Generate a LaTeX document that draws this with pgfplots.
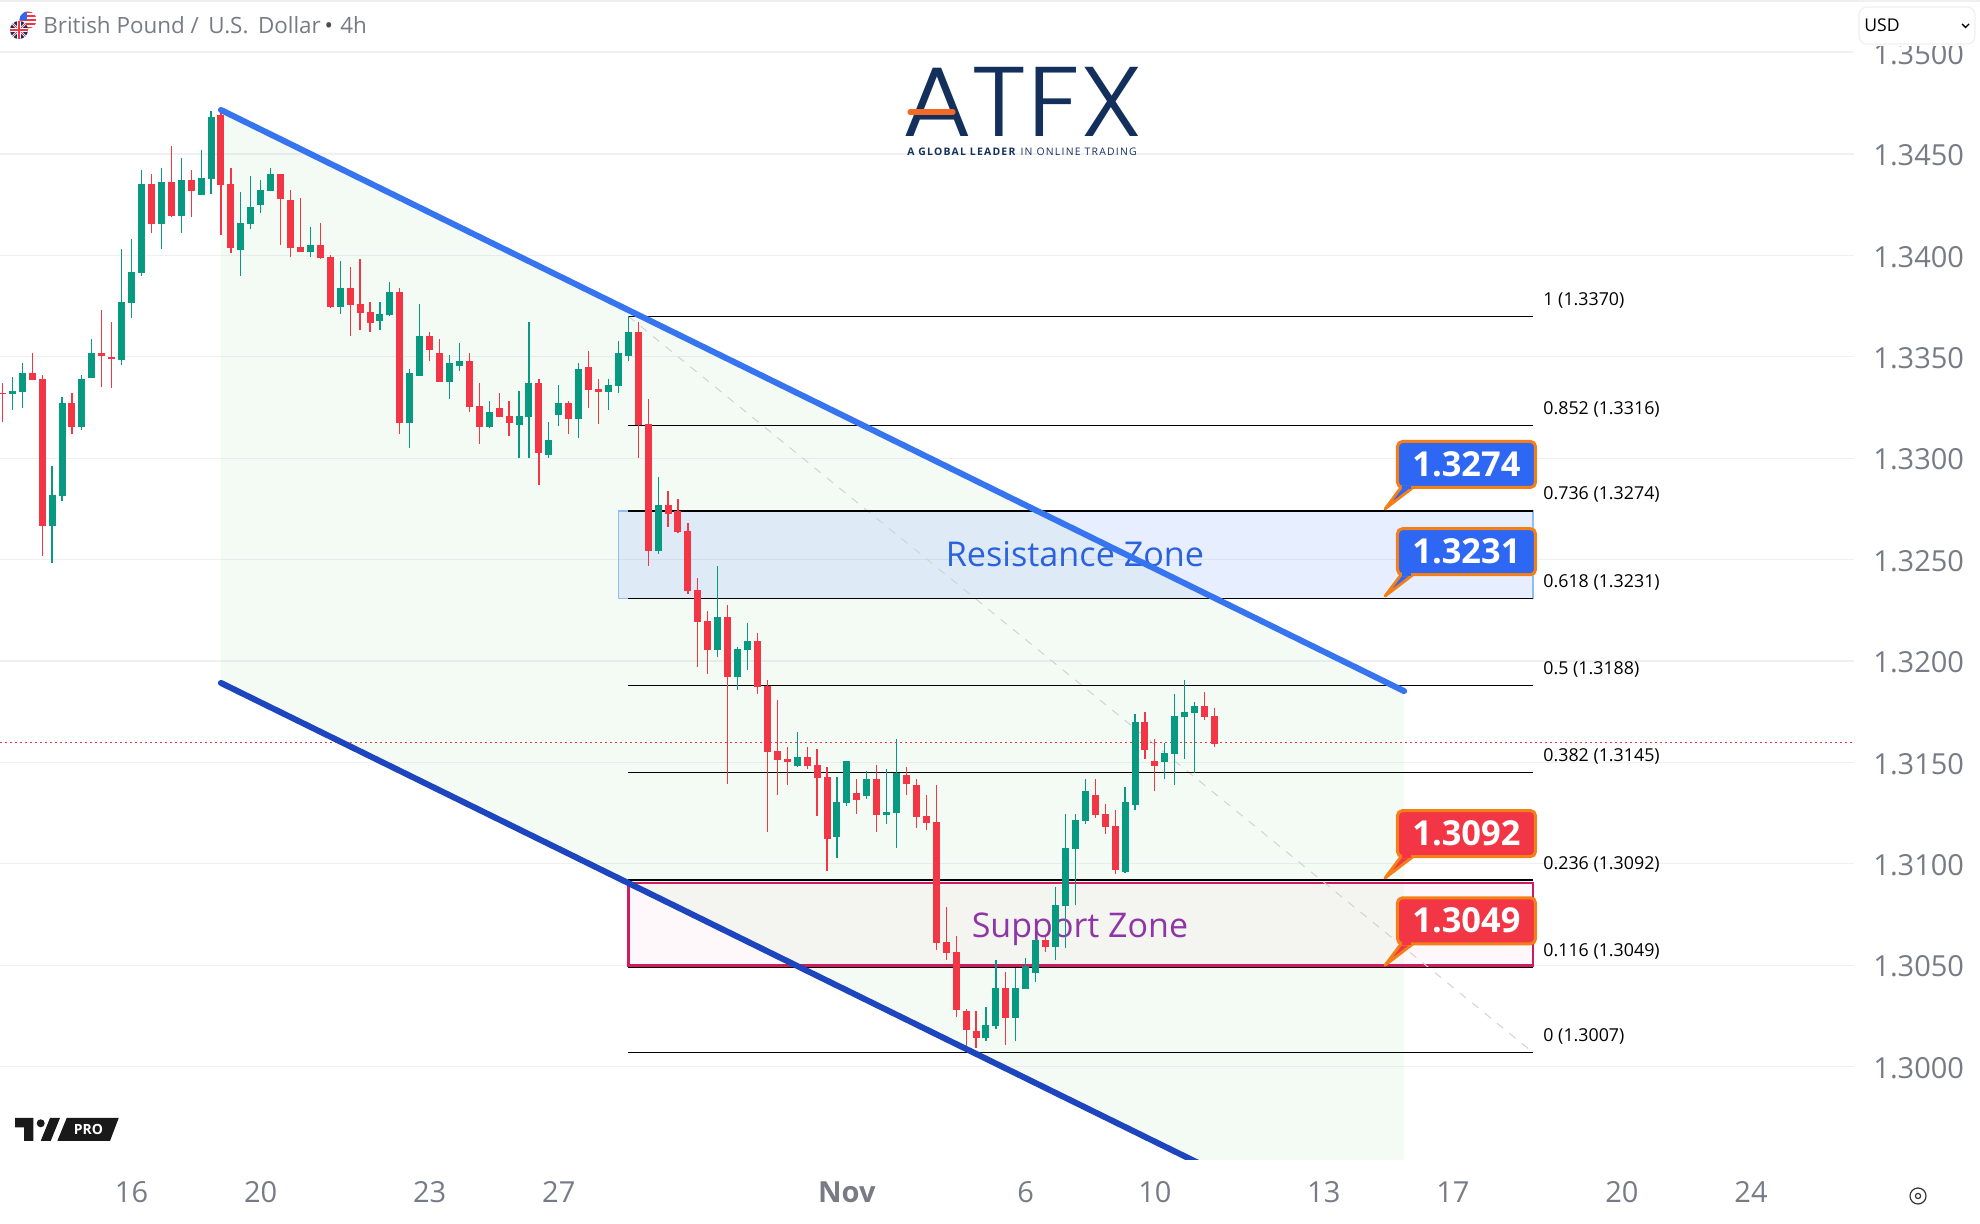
\documentclass[border=0pt]{standalone}
\usepackage{fontspec}
\usepackage{pgfplots}
\usepackage{pgfplotstable}
\pgfplotsset{compat=1.18}
\setmainfont{Open Sans}
\newfontfamily\logoA[FakeStretch=1.08]{Poppins Light}
\newfontfamily\logoB[LetterSpace=12]{Open Sans}
\definecolor{cg}{HTML}{089981}
\definecolor{cr}{HTML}{F23645}
\definecolor{tickgrey}{HTML}{787B86}
\definecolor{gridc}{HTML}{F0F0F3}
\definecolor{navy}{HTML}{13305C}
\definecolor{orangeb}{HTML}{F57F17}
\definecolor{orangel}{HTML}{F26B26}
\definecolor{boxblue}{HTML}{2F67F5}
\pgfplotstableread{
i h t b l
1 1.33400 1.33331 1.33317 1.33238
2 1.33469 1.33420 1.33326 1.33248
5 1.32962 1.32819 1.32666 1.32483
6 1.33302 1.33272 1.32814 1.32789
8 1.33410 1.33391 1.33154 1.33139
9 1.33588 1.33519 1.33395 1.33395
12 1.34031 1.33770 1.33484 1.33460
13 1.34081 1.33918 1.33765 1.33691
14 1.34421 1.34352 1.33913 1.33898
16 1.34431 1.34362 1.34155 1.34031
18 1.34480 1.34372 1.34194 1.34110
20 1.34520 1.34381 1.34298 1.34298
21 1.34712 1.34682 1.34376 1.34303
24 1.34312 1.34160 1.34026 1.33898
25 1.34391 1.34238 1.34155 1.34130
26 1.34372 1.34322 1.34248 1.34209
27 1.34431 1.34401 1.34317 1.34317
31 1.34140 1.34051 1.34017 1.33992
34 1.33972 1.33839 1.33745 1.33711
38 1.33770 1.33711 1.33676 1.33632
39 1.33869 1.33820 1.33706 1.33701
41 1.33440 1.33420 1.33174 1.33050
42 1.33760 1.33603 1.33405 1.33405
45 1.33509 1.33469 1.33376 1.33292
46 1.33568 1.33479 1.33455 1.33430
49 1.33282 1.33228 1.33154 1.33149
52 1.33331 1.33208 1.33164 1.33001
53 1.33671 1.33371 1.33203 1.33001
55 1.33179 1.33090 1.33016 1.33001
56 1.33361 1.33272 1.33213 1.33159
58 1.33469 1.33440 1.33193 1.33100
61 1.33391 1.33361 1.33326 1.33238
62 1.33578 1.33519 1.33356 1.33322
63 1.33701 1.33622 1.33504 1.33479
66 1.32907 1.32769 1.32543 1.32528
72 1.32469 1.32217 1.32055 1.32020
74 1.32069 1.32059 1.31921 1.31857
75 1.32188 1.32099 1.32055 1.31956
80 1.31650 1.31527 1.31483 1.31478
84 1.31428 1.31305 1.31133 1.31029
85 1.31507 1.31507 1.31300 1.31285
87 1.31458 1.31418 1.31335 1.31320
89 1.31468 1.31256 1.31241 1.31197
90 1.31616 1.31448 1.31251 1.31078
99 1.30294 1.30206 1.30142 1.30127
100 1.30526 1.30388 1.30201 1.30186
102 1.30487 1.30388 1.30240 1.30127
103 1.30536 1.30497 1.30383 1.30383
104 1.30630 1.30625 1.30462 1.30418
106 1.30886 1.30797 1.30591 1.30526
107 1.31246 1.31078 1.30792 1.30586
108 1.31246 1.31216 1.31073 1.30797
109 1.31418 1.31359 1.31212 1.31197
113 1.31379 1.31305 1.30960 1.30955
114 1.31739 1.31700 1.31290 1.31266
117 1.31596 1.31547 1.31502 1.31418
118 1.31838 1.31729 1.31542 1.31389
119 1.31907 1.31749 1.31724 1.31517
120 1.31798 1.31778 1.31744 1.31448
}\greendata
\pgfplotstableread{
i h t b l
0 1.33371 1.33322 1.33317 1.33179
3 1.33519 1.33420 1.33386 1.33386
4 1.33410 1.33391 1.32666 1.32518
7 1.33322 1.33272 1.33154 1.33119
10 1.33731 1.33519 1.33504 1.33351
11 1.33671 1.33499 1.33489 1.33346
15 1.34401 1.34352 1.34155 1.34110
17 1.34539 1.34362 1.34194 1.34189
19 1.34421 1.34372 1.34317 1.34189
22 1.34702 1.34692 1.34347 1.34100
23 1.34431 1.34352 1.34036 1.34012
28 1.34401 1.34401 1.34278 1.34051
29 1.34322 1.34273 1.34036 1.33992
30 1.34283 1.34041 1.34017 1.34017
32 1.34160 1.34051 1.33987 1.33982
33 1.34002 1.33992 1.33745 1.33740
35 1.33943 1.33839 1.33755 1.33603
36 1.33982 1.33760 1.33716 1.33632
37 1.33770 1.33721 1.33667 1.33622
40 1.33839 1.33820 1.33174 1.33119
43 1.33622 1.33603 1.33534 1.33479
44 1.33588 1.33519 1.33376 1.33376
47 1.33519 1.33479 1.33253 1.33228
48 1.33371 1.33257 1.33154 1.33070
50 1.33322 1.33248 1.33203 1.33203
51 1.33282 1.33208 1.33174 1.33110
54 1.33391 1.33371 1.33026 1.32868
57 1.33282 1.33272 1.33193 1.33119
59 1.33529 1.33450 1.33336 1.33248
60 1.33391 1.33341 1.33326 1.33169
64 1.33671 1.33622 1.33164 1.33001
65 1.33292 1.33169 1.32543 1.32469
67 1.32838 1.32769 1.32725 1.32661
68 1.32799 1.32740 1.32636 1.32631
69 1.32681 1.32641 1.32345 1.32331
70 1.32409 1.32350 1.32193 1.31971
71 1.32247 1.32198 1.32055 1.31936
73 1.32276 1.32217 1.31921 1.31394
76 1.32138 1.32099 1.31872 1.31838
77 1.31907 1.31877 1.31552 1.31157
78 1.31808 1.31557 1.31512 1.31340
79 1.31576 1.31517 1.31502 1.31389
81 1.31576 1.31527 1.31483 1.31468
82 1.31566 1.31488 1.31423 1.31236
83 1.31478 1.31428 1.31123 1.30965
86 1.31418 1.31349 1.31315 1.31246
88 1.31488 1.31418 1.31241 1.31157
91 1.31478 1.31438 1.31394 1.31340
92 1.31418 1.31389 1.31231 1.31177
93 1.31340 1.31236 1.31202 1.31167
94 1.31389 1.31207 1.30610 1.30575
95 1.30787 1.30615 1.30561 1.30526
96 1.30644 1.30566 1.30280 1.30245
97 1.30285 1.30275 1.30181 1.30092
98 1.30275 1.30176 1.30142 1.30092
101 1.30467 1.30388 1.30240 1.30107
105 1.30640 1.30625 1.30591 1.30566
110 1.31418 1.31340 1.31241 1.31226
111 1.31295 1.31246 1.31182 1.31147
112 1.31266 1.31187 1.30970 1.30950
115 1.31749 1.31700 1.31561 1.31517
116 1.31616 1.31507 1.31483 1.31359
121 1.31847 1.31778 1.31724 1.31709
122 1.31768 1.31729 1.31591 1.31576
}\reddata
\newcommand\callout[3]{%
  \begin{scope}[shift={(axis cs:138.96,#1)}]
    \draw[orangeb,line width=1.4pt,fill=#2,line join=round] (1pt,1pt) -- (9pt,11.7pt) -- (15pt,11.7pt) -- cycle;
    \fill[orangeb] (0,0) circle (1.8pt);
    \draw[orangeb,line width=1.5pt,fill=#2,rounded corners=2.5pt] (7.25pt,11.75pt) rectangle (76.25pt,34.75pt);
    \draw[#2,line width=1.6pt] (9.5pt,11.75pt) -- (14pt,11.75pt);
    \node[font=\fontsize{17.2}{19}\selectfont\bfseries,text=white,inner sep=0pt] at (41.7pt,23.4pt) {#3};
  \end{scope}}
\newcommand\fiblabel[2]{\node[anchor=west,inner sep=0pt,font=\fontsize{8.9}{10}\selectfont,text=black] at (axis cs:155.07,#1) {#2};}
\begin{document}
\begin{tikzpicture}[x=1pt,y=1pt]
\useasboundingbox (0,0) rectangle (990,612);
\begin{axis}[
  at={(0pt,32pt)},anchor=south west,
  scale only axis,width=927pt,height=554pt,
  xmin=-0.2416,xmax=186.37,ymin=1.29540,ymax=1.35003,
  axis line style={draw=none},major tick length=0pt,
  scaled y ticks=false,
  ytick={1.30,1.305,1.31,1.315,1.32,1.325,1.33,1.335,1.34,1.345,1.35},
  yticklabel pos=right,ytick pos=right,
  ymajorgrids,grid style={gridc,line width=0.6pt},
  yticklabel style={/pgf/number format/.cd,fixed,fixed zerofill,precision=4,assume math mode=true,
    /tikz/.cd,font=\fontsize{14.5}{16}\selectfont,text=tickgrey,anchor=west,inner sep=0pt,xshift=9.5pt,yshift=-0.7pt},
  xtick={13,26,43,56,85,103,116,133,146,163,176},
  xticklabels={16,20,23,27,\textbf{Nov},6,10,13,17,20,24},
  xticklabel style={font=\fontsize{14.5}{16}\selectfont,text=tickgrey,anchor=center,inner sep=0pt,yshift=-16pt},
]
% channel fill
\addplot[draw=none,fill=green!60!black!70,fill opacity=0.06,forget plot] coordinates {(22,1.34717) (141.08,1.31852) (141.08,1.29027) (22,1.31892)} -- cycle;
% zones
\addplot[draw={rgb,255:red,144;green,190;blue,240},line width=0.6pt,fill={rgb,255:red,41;green,98;blue,255},fill opacity=0.11,draw opacity=1,forget plot] coordinates {(62,1.3274) (154.06,1.3274) (154.06,1.3231) (62,1.3231)} -- cycle;
\addplot[draw={rgb,255:red,208;green,27;blue,96},line width=1.3pt,fill={rgb,255:red,233;green,30;blue,99},fill opacity=0.03,draw opacity=1,forget plot] coordinates {(63,1.30905) (154.06,1.30905) (154.06,1.30500) (63,1.30500)} -- cycle;
% labels of the zones
\node[font=\fontsize{17.1}{20}\selectfont,text={rgb,255:red,41;green,98;blue,220},inner sep=0pt] at (axis cs:107.96,1.32527) {Resistance Zone};
\node[font=\fontsize{17}{20}\selectfont,text={rgb,255:red,142;green,53;blue,168},inner sep=0pt] at (axis cs:108.46,1.30678) {Support Zone};
% fibonacci
\addplot[draw={rgb,255:red,208;green,212;blue,208},line width=0.5pt,dash pattern=on 4pt off 4pt,forget plot] coordinates {(63,1.3370) (154.06,1.3007)};
\foreach \lv in {1.3370,1.3316,1.3274,1.3231,1.3188,1.3145,1.3092,1.3049,1.3007}{
  \edef\tmp{\noexpand\addplot[black,line width=0.65pt,forget plot] coordinates {(63,\lv) (154.06,\lv)};}\tmp
}
% last price
\addplot[cr,line width=0.5pt,dash pattern=on 1pt off 1.5pt,forget plot] coordinates {(-0.24,1.31596) (186.37,1.31596)};
% candles
\addplot[draw=none,mark=none,forget plot,error bars/.cd,y dir=plus,y explicit,error mark=none,error bar style={draw=cg,line width=0.6pt}] table[x=i,y=l,y error expr=\thisrow{h}-\thisrow{l}] {\greendata};
\addplot[draw=none,mark=none,forget plot,error bars/.cd,y dir=plus,y explicit,error mark=none,error bar style={draw=cr,line width=0.6pt}] table[x=i,y=l,y error expr=\thisrow{h}-\thisrow{l}] {\reddata};
\addplot[draw=none,mark=none,forget plot,error bars/.cd,y dir=plus,y explicit,error mark=none,error bar style={draw=cg,line width=3.5pt}] table[x=i,y=b,y error expr=\thisrow{t}-\thisrow{b}] {\greendata};
\addplot[draw=none,mark=none,forget plot,error bars/.cd,y dir=plus,y explicit,error mark=none,error bar style={draw=cr,line width=3.5pt}] table[x=i,y=b,y error expr=\thisrow{t}-\thisrow{b}] {\reddata};
% channel lines
\addplot[color={rgb,255:red,54;green,116;blue,240},line width=3pt,line cap=round,forget plot] coordinates {(22,1.34717) (141.08,1.31852)};
\addplot[color={rgb,255:red,28;green,69;blue,190},line width=3pt,line cap=round,forget plot] coordinates {(22,1.31892) (141.08,1.29027)};
% fib labels
\fiblabel{1.33779}{1 (1.3370)}
\fiblabel{1.33239}{0.852 (1.3316)}
\fiblabel{1.32819}{0.736 (1.3274)}
\fiblabel{1.32389}{0.618 (1.3231)}
\fiblabel{1.31959}{0.5 (1.3188)}
\fiblabel{1.31529}{0.382 (1.3145)}
\fiblabel{1.30999}{0.236 (1.3092)}
\fiblabel{1.30569}{0.116 (1.3049)}
\fiblabel{1.30149}{0 (1.3007)}
% callouts
\callout{1.3274}{boxblue}{1.3274}
\callout{1.3231}{boxblue}{1.3231}
\callout{1.3092}{cr}{1.3092}
\callout{1.3049}{cr}{1.3049}
\end{axis}
% overlay in reference pixels
\begin{scope}[x=0.5pt,y=-0.5pt,shift={(0,612pt)}]
  % header
  \fill[white] (0,0) rectangle (1980,46);
  \fill[white] (0,46) rectangle (1856,52);
  \draw[gridc,line width=0.6pt] (0,1) -- (1980,1);
  \draw[gridc,line width=0.6pt] (0,52) -- (1852,52);
  % flags
  \begin{scope}
    \clip (28,20) circle (8.5);
    \fill[white] (19,11) rectangle (37,29);
    \foreach \yy in {12,16,20,24,28}{\fill[cr] (19,\yy-1) rectangle (37,\yy+1);}
    \fill[boxblue] (19,11) rectangle (27,20);
  \end{scope}
  \begin{scope}
    \clip (19,30) circle (9);
    \fill[navy] (9,20) rectangle (29,40);
    \draw[white,line width=1.2pt] (10,21) -- (28,39) (10,39) -- (28,21);
    \draw[cr,line width=0.5pt] (10,21) -- (28,39) (10,39) -- (28,21);
    \draw[white,line width=2pt] (19,20) -- (19,40) (9,30) -- (29,30);
    \draw[cr,line width=1.2pt] (19,20) -- (19,40) (9,30) -- (29,30);
  \end{scope}
  \node[anchor=west,inner sep=0pt,text=tickgrey,font=\fontsize{11.2}{14}\selectfont] at (43,25.5) {British Pound\ /\ \,U.S.\,\ Dollar\,{\color{black!70}\textbullet}\,\,4h};
  % USD box
  \draw[gridc,fill=white,line width=0.6pt,rounded corners=4pt] (1859,7) rectangle (1975,44);
  \node[anchor=west,inner sep=0pt,text=black,font=\fontsize{8.8}{10}\selectfont] at (1864,25.5) {USD};
  \draw[black,line width=0.7pt] (1962,24) -- (1965.5,27.5) -- (1969,24);
  % logo
  \node[anchor=base,inner sep=0pt,text=navy,font=\logoA\fontsize{49.5}{52}\selectfont] at (1022.5,137) {ATFX};
  \draw[orangel,line width=2.6pt,line cap=round] (910,112) -- (953,112);
  \node[anchor=center,inner sep=0pt,text=navy,font=\logoB\fontsize{5.2}{6}\selectfont] at (1022,152) {\textbf{A GLOBAL LEADER} IN ONLINE TRADING};
  % TradingView mark
  \fill[black!90] (15,1118) -- (33.3,1118) -- (33.3,1141) -- (24,1141) -- (24,1127.5) -- (15,1127.5) -- cycle;
  \fill[black!90] (40.7,1123.3) circle (4);
  \fill[black!90] (50,1118) -- (60,1118) -- (50.7,1141) -- (40.7,1141) -- cycle;
  \fill[black!90] (66.7,1118) -- (118.7,1118) -- (110,1141) -- (57.3,1141) -- cycle;
  \node[inner sep=0pt,text=white,font=\fontsize{7}{8}\selectfont\bfseries] at (88.5,1130) {PRO};
  % settings icon
  \draw[black!80,line width=0.6pt] (1918,1196) circle (8);
  \draw[black!80,line width=0.6pt] (1918,1196) circle (2.6);
\end{scope}
\end{tikzpicture}
\end{document}
